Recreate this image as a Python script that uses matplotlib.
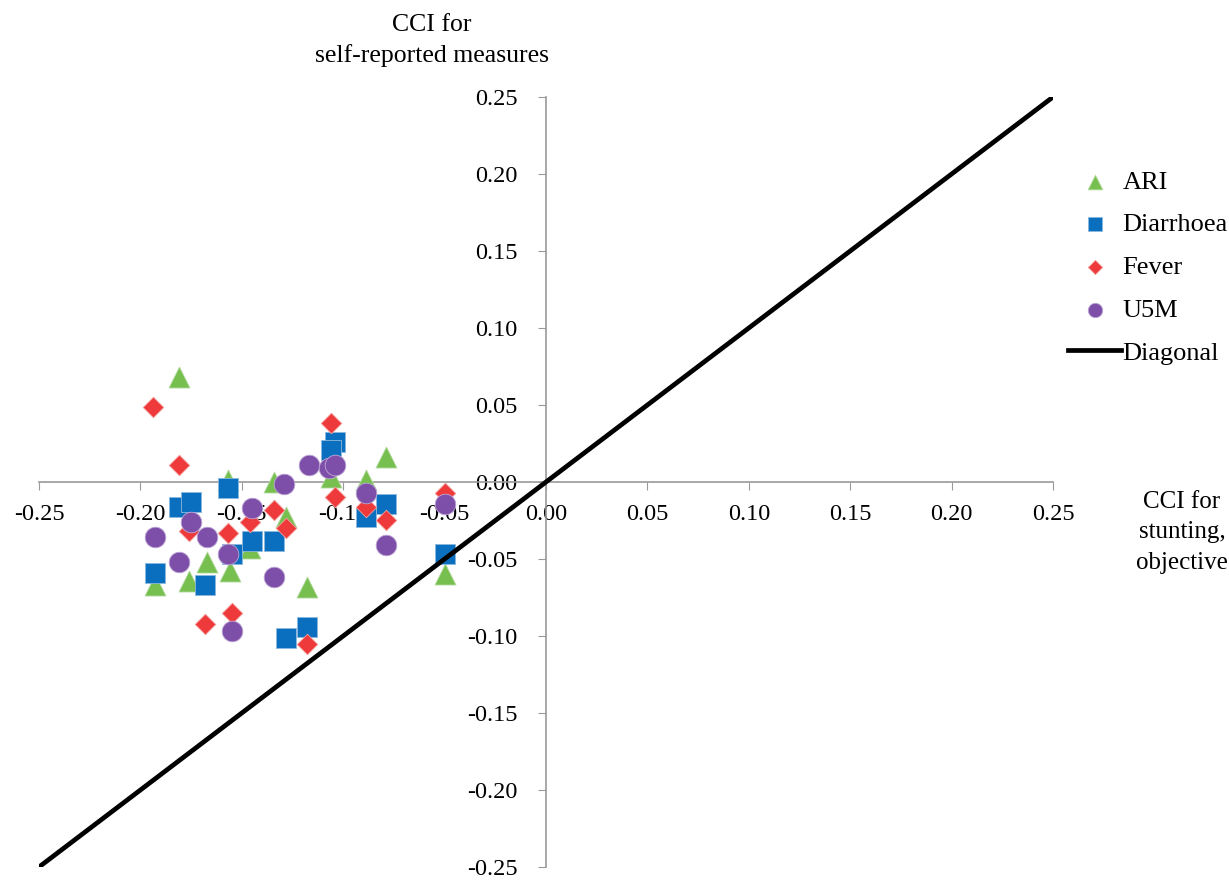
import matplotlib.pyplot as plt

plt.rcParams['font.family'] = ['Liberation Serif', 'DejaVu Serif']

# CCI for stunting (x) vs CCI for self-reported measures (y)
ari_x = [-0.181, -0.157, -0.134, -0.128, -0.146, -0.167, -0.156, -0.176, -0.193, -0.118,
         -0.079, -0.106, -0.089, -0.050]
ari_y = [0.068, 0.001, 0.000, -0.023, -0.043, -0.052, -0.058, -0.064, -0.067, -0.068,
         0.016, 0.003, 0.001, -0.060]

dia_x = [-0.157, -0.181, -0.175, -0.145, -0.134, -0.155, -0.193, -0.168, -0.128, -0.118,
         -0.104, -0.106, -0.089, -0.079, -0.050]
dia_y = [-0.004, -0.016, -0.013, -0.038, -0.038, -0.047, -0.059, -0.067, -0.101, -0.094,
         0.026, 0.021, -0.023, -0.014, -0.047]

fev_x = [-0.194, -0.181, -0.134, -0.146, -0.128, -0.157, -0.176, -0.155, -0.168, -0.118,
         -0.106, -0.104, -0.089, -0.079, -0.050]
fev_y = [0.049, 0.011, -0.018, -0.026, -0.030, -0.033, -0.032, -0.085, -0.092, -0.105,
         0.038, -0.010, -0.016, -0.025, -0.007]

u5m_x = [-0.117, -0.129, -0.145, -0.175, -0.193, -0.167, -0.157, -0.181, -0.134, -0.155,
         -0.107, -0.104, -0.089, -0.079, -0.050]
u5m_y = [0.011, -0.001, -0.017, -0.026, -0.036, -0.036, -0.047, -0.052, -0.062, -0.097,
         0.009, 0.011, -0.007, -0.041, -0.014]

diag = [-0.25, 0.25]
ticks = [-0.25, -0.20, -0.15, -0.10, -0.05, 0.00, 0.05, 0.10, 0.15, 0.20, 0.25]

fig = plt.figure(figsize=(12.29, 8.81), dpi=100)
ax = fig.add_axes([39 / 1229, 1 - 867 / 881, (1053 - 39) / 1229, (867 - 97) / 881])

ax.scatter(ari_x, ari_y, marker='^', s=230, color='#77C04F', edgecolor='#b8dca6', linewidth=0.6, label='ARI', zorder=3)
ax.scatter(dia_x, dia_y, marker='s', s=210, color='#0A6FBE', edgecolor='#8ab8de', linewidth=0.6, label='Diarrhoea', zorder=3)
ax.scatter(fev_x, fev_y, marker='D', s=110, color='#EE3A3A', edgecolor='#f4a0a0', linewidth=0.6, label='Fever', zorder=3)
ax.scatter(u5m_x, u5m_y, marker='o', s=220, color='#7E4FA9', edgecolor='#bda6d6', linewidth=0.6, label='U5M', zorder=3)
ax.plot(diag, diag, color='black', linewidth=3.4, label='Diagonal', zorder=4)

ax.set_xlim(-0.25, 0.25)
ax.set_ylim(-0.25, 0.25)
ax.set_xticks(ticks)
ax.set_yticks(ticks)
ax.set_xticklabels([f'{t:.2f}' for t in ticks])
ax.set_yticklabels([f'{t:.2f}' for t in ticks])
ax.spines['left'].set_position('zero')
ax.spines['bottom'].set_position('zero')
ax.spines['right'].set_visible(False)
ax.spines['top'].set_visible(False)
for s in ['left', 'bottom']:
    ax.spines[s].set_color('#9a9a9a')
    ax.spines[s].set_linewidth(1.2)
ax.tick_params(colors='#9a9a9a', labelcolor='black', labelsize=17.5, length=6)
ax.tick_params(axis='y', pad=14.5)
ax.tick_params(axis='x', pad=10)

fig.text(432 / 1229, 1 - 14 / 881, 'CCI for\nself-reported measures', ha='center', va='top',
         fontsize=18.5, linespacing=1.42)
fig.text(1182 / 1229, 1 - 532 / 881, 'CCI for\nstunting,\nobjective', ha='center', va='center',
         fontsize=18, linespacing=1.5)

ax.legend(loc='upper left', bbox_to_anchor=(1055 / 1229, 1 - 157 / 881), bbox_transform=fig.transFigure,
          frameon=False, fontsize=19, markerscale=0.7, handlelength=2.0, handletextpad=0.05,
          labelspacing=0.73, borderpad=0)

fig.savefig('out.png', dpi=100)
